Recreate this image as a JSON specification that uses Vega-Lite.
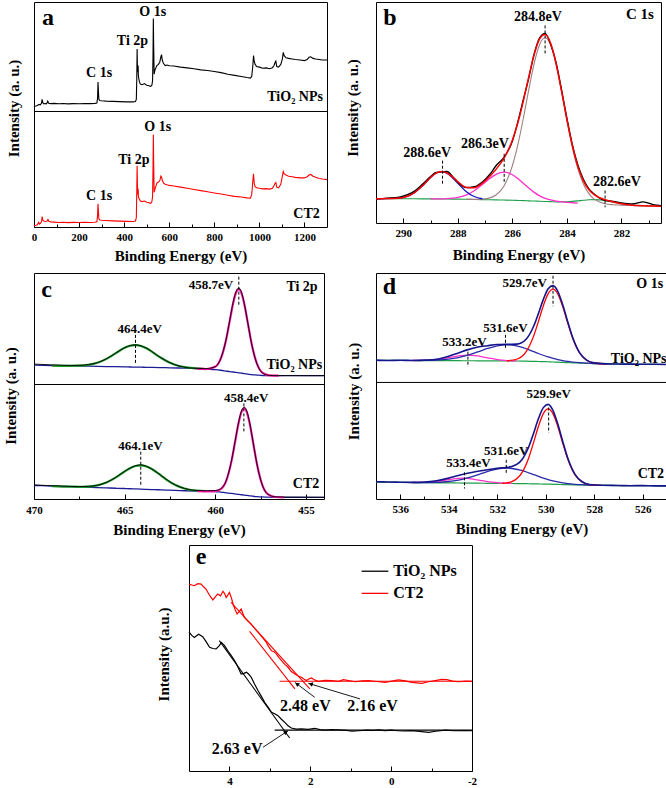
{
"$schema":"https://vega.github.io/schema/vega-lite/v6.json",
"padding":{"left":2,"top":1,"right":0,"bottom":0},
"background":"white",
"config":{
 "view":{"stroke":"black","strokeWidth":1},
 "axis":{"labelFont":"Liberation Serif","labelFontWeight":"bold","labelFontSize":11,"labelColor":"black","titleFont":"Liberation Serif","titleFontWeight":"bold","titleFontSize":15,"titleColor":"black","grid":false,"domain":false,"tickColor":"black","tickWidth":1,"labelFlush":false,"labelOverlap":false},
 "text":{"font":"Liberation Serif","fontWeight":"bold","color":"black","baseline":"middle"},
 "line":{"strokeWidth":1.2}
},
"datasets":{
"a_top":[{"x":0,"y":4.5},{"x":8,"y":5},{"x":15,"y":5.5},{"x":22,"y":6.5},{"x":28,"y":6},{"x":33,"y":7.5},{"x":36,"y":11},{"x":39,"y":8},{"x":44,"y":7},{"x":50,"y":7.3},{"x":56,"y":7},{"x":61,"y":9.5},{"x":65,"y":7.6},{"x":75,"y":7.2},{"x":90,"y":7.4},{"x":110,"y":7.1},{"x":130,"y":7.3},{"x":150,"y":7.0},{"x":175,"y":7.2},{"x":200,"y":7.1},{"x":225,"y":7.3},{"x":250,"y":7.2},{"x":270,"y":7.4},{"x":279,"y":7.8},{"x":282,"y":12},{"x":284,"y":27},{"x":286,"y":18},{"x":288,"y":11},{"x":292,"y":10},{"x":300,"y":9.8},{"x":320,"y":9.5},{"x":350,"y":9.2},{"x":380,"y":9.0},{"x":410,"y":8.8},{"x":440,"y":8.8},{"x":450,"y":9.2},{"x":454,"y":11},{"x":456,"y":30},{"x":457.5,"y":57},{"x":459,"y":40},{"x":461,"y":36},{"x":462,"y":42},{"x":463,"y":33},{"x":465,"y":30},{"x":468,"y":27},{"x":472,"y":25},{"x":480,"y":24.5},{"x":490,"y":25.5},{"x":500,"y":24},{"x":510,"y":23.5},{"x":518,"y":23},{"x":523,"y":24},{"x":526,"y":28},{"x":528,"y":50},{"x":529.5,"y":85},{"x":531,"y":60},{"x":533,"y":34},{"x":537,"y":38},{"x":545,"y":42},{"x":552,"y":43},{"x":558,"y":45},{"x":563,"y":50},{"x":566,"y":52},{"x":569,"y":47},{"x":574,"y":44},{"x":582,"y":42},{"x":590,"y":42.5},{"x":600,"y":41.8},{"x":620,"y":41.5},{"x":650,"y":40.5},{"x":680,"y":39.8},{"x":710,"y":39},{"x":740,"y":38},{"x":770,"y":37.5},{"x":800,"y":36.5},{"x":830,"y":35.5},{"x":860,"y":34},{"x":890,"y":33},{"x":920,"y":32},{"x":945,"y":31},{"x":960,"y":30.5},{"x":966,"y":32},{"x":971,"y":42},{"x":974,"y":51},{"x":977,"y":46},{"x":981,"y":43},{"x":988,"y":41},{"x":1000,"y":40.5},{"x":1015,"y":39.5},{"x":1030,"y":39.8},{"x":1045,"y":39},{"x":1058,"y":40},{"x":1065,"y":42},{"x":1070,"y":45},{"x":1073,"y":46},{"x":1077,"y":41},{"x":1085,"y":40.5},{"x":1095,"y":43},{"x":1102,"y":48},{"x":1106,"y":54},{"x":1110,"y":51},{"x":1118,"y":49},{"x":1130,"y":48.5},{"x":1145,"y":48},{"x":1160,"y":47.5},{"x":1180,"y":47},{"x":1200,"y":46.5},{"x":1212,"y":47.5},{"x":1220,"y":49.5},{"x":1228,"y":50},{"x":1238,"y":48.5},{"x":1250,"y":48},{"x":1265,"y":47.5},{"x":1280,"y":47},{"x":1300,"y":47}],
"a_bot":[{"x":0,"y":1},{"x":8,"y":1.5},{"x":15,"y":2},{"x":20,"y":4},{"x":25,"y":2.5},{"x":30,"y":3.5},{"x":34,"y":5},{"x":36,"y":9},{"x":39,"y":6},{"x":45,"y":5},{"x":52,"y":4.8},{"x":58,"y":5.2},{"x":62,"y":6.5},{"x":66,"y":5},{"x":75,"y":4.3},{"x":90,"y":4.2},{"x":110,"y":3.9},{"x":130,"y":4.1},{"x":150,"y":3.8},{"x":175,"y":4},{"x":200,"y":3.9},{"x":225,"y":4.1},{"x":250,"y":3.9},{"x":270,"y":4.1},{"x":279,"y":4.5},{"x":282,"y":10},{"x":284,"y":20},{"x":286,"y":13},{"x":288,"y":7},{"x":292,"y":6},{"x":300,"y":5.8},{"x":320,"y":5.6},{"x":350,"y":5.3},{"x":380,"y":5.1},{"x":410,"y":4.9},{"x":440,"y":4.8},{"x":450,"y":5.2},{"x":454,"y":8},{"x":456,"y":30},{"x":457.5,"y":53},{"x":459,"y":36},{"x":461,"y":28},{"x":462,"y":33},{"x":463,"y":27},{"x":465,"y":25},{"x":468,"y":24},{"x":472,"y":22.5},{"x":480,"y":22},{"x":490,"y":22.5},{"x":500,"y":21.5},{"x":510,"y":21},{"x":518,"y":20.5},{"x":523,"y":22},{"x":526,"y":26},{"x":528,"y":50},{"x":529.5,"y":80},{"x":531,"y":55},{"x":533,"y":30},{"x":537,"y":33},{"x":545,"y":38},{"x":552,"y":39},{"x":558,"y":40},{"x":563,"y":44},{"x":566,"y":43},{"x":570,"y":40},{"x":575,"y":38},{"x":582,"y":37},{"x":590,"y":36.5},{"x":600,"y":36},{"x":620,"y":35.5},{"x":650,"y":34.5},{"x":680,"y":33.5},{"x":710,"y":32.5},{"x":740,"y":31.5},{"x":770,"y":30.5},{"x":800,"y":29.5},{"x":830,"y":28.5},{"x":860,"y":27.5},{"x":890,"y":26.5},{"x":920,"y":26},{"x":945,"y":25.2},{"x":960,"y":25},{"x":966,"y":28},{"x":971,"y":40},{"x":974,"y":46},{"x":977,"y":38},{"x":981,"y":35},{"x":988,"y":34},{"x":1000,"y":33.5},{"x":1015,"y":33},{"x":1030,"y":33.2},{"x":1045,"y":32.8},{"x":1058,"y":33.5},{"x":1065,"y":36},{"x":1070,"y":38},{"x":1073,"y":38.5},{"x":1077,"y":34.5},{"x":1085,"y":34},{"x":1095,"y":37},{"x":1102,"y":44},{"x":1106,"y":48},{"x":1110,"y":46},{"x":1118,"y":45},{"x":1130,"y":44},{"x":1145,"y":43.5},{"x":1160,"y":43},{"x":1180,"y":42.5},{"x":1200,"y":42.5},{"x":1212,"y":43.5},{"x":1220,"y":45},{"x":1228,"y":45.5},{"x":1238,"y":44},{"x":1250,"y":43},{"x":1265,"y":42},{"x":1280,"y":41.5},{"x":1300,"y":41}],
"b":[{"x":291.0,"d":10.8,"env":11.0,"c1":11.0,"g":11.0},{"x":290.6,"d":11.3,"env":11.03,"c1":11.03,"g":11.0},{"x":290.2,"d":11.6,"env":11.24,"c1":11.24,"g":11.0},{"x":289.9,"d":12.6,"env":11.91,"c1":11.91,"g":10.99},{"x":289.6,"d":14.3,"env":13.62,"c1":13.62,"g":10.96},{"x":289.3,"d":17.5,"env":16.76,"c1":16.76,"g":10.93},{"x":289.0,"d":21.0,"env":20.6,"c1":20.59,"c2":10.91,"g":10.9},{"x":288.8,"d":22.9,"env":22.57,"c1":22.54,"c2":10.91,"g":10.88},{"x":288.6,"d":23.1,"env":23.34,"c1":23.26,"c2":10.94,"g":10.86},{"x":288.4,"d":23.3,"env":22.68,"c1":22.5,"c2":11.02,"g":10.84},{"x":288.2,"d":21.2,"env":20.9,"c1":20.51,"c2":11.21,"g":10.82},{"x":288.0,"d":18.5,"env":18.71,"c1":17.93,"c2":11.58,"g":10.8},{"x":287.7,"d":16.0,"env":16.21,"c1":14.3,"c2":12.63,"c3":10.73,"g":10.73},{"x":287.4,"d":16.4,"env":15.97,"c1":12.0,"c2":14.57,"c3":10.7,"g":10.65},{"x":287.1,"d":18.6,"env":18.01,"c1":10.97,"c2":17.38,"c3":10.82,"g":10.58},{"x":286.8,"d":22.4,"env":21.47,"c2":20.4,"c3":11.48,"g":10.5},{"x":286.6,"d":25.9,"env":24.26,"c2":22.0,"c3":12.68,"g":10.45},{"x":286.3,"d":29.8,"env":29.49,"c2":22.98,"c3":16.89,"g":10.38},{"x":286.0,"d":37.0,"env":37.46,"c2":21.85,"c3":25.91,"g":10.3},{"x":285.8,"d":45.8,"env":45.24,"c2":20.11,"c3":35.34,"g":10.21},{"x":285.6,"d":55.8,"env":55.05,"c2":17.96,"c3":47.2,"g":10.11},{"x":285.4,"d":65.5,"env":66.0,"c2":15.79,"c3":60.23,"g":10.02},{"x":285.2,"d":76.6,"env":76.18,"c2":13.85,"c3":72.26,"g":9.93},{"x":285.0,"d":83.8,"env":83.27,"c2":12.3,"c3":80.8,"g":9.83},{"x":284.8,"d":85.8,"env":85.28,"c2":11.18,"c3":83.84,"g":9.74},{"x":284.6,"d":81.0,"env":81.4,"c2":10.43,"c3":80.62,"g":9.65},{"x":284.4,"d":72.8,"env":72.25,"c2":9.92,"c3":71.86,"g":9.53},{"x":284.2,"d":60.6,"env":59.98,"c2":9.58,"c3":59.61,"g":9.59},{"x":284.0,"d":47.5,"env":46.81,"c2":9.35,"c3":46.36,"g":9.64},{"x":283.8,"d":35.5,"env":34.94,"c2":9.16,"c3":34.26,"g":9.78},{"x":283.6,"d":26.4,"env":25.62,"c2":9.0,"c3":24.61,"g":10.01},{"x":283.4,"d":19.9,"env":19.18,"c3":17.77,"g":10.28},{"x":283.2,"d":15.6,"env":15.15,"c3":13.38,"g":10.5},{"x":283.0,"d":13.1,"env":12.8,"c3":10.83,"g":10.57},{"x":282.8,"d":11.2,"env":11.43,"c3":9.46,"g":10.45},{"x":282.6,"d":10.2,"env":10.52,"c3":8.75,"g":10.13},{"x":282.3,"d":9.8,"env":9.48,"c3":8.27,"g":9.39},{"x":282.0,"d":9.1,"env":8.66,"c3":8.01,"g":8.65},{"x":281.6,"d":8.6,"env":8.08,"c3":7.89,"g":8.08},{"x":281.2,"d":9.6,"env":7.82,"c3":7.78,"g":7.82},{"x":280.8,"d":8.2,"env":7.67,"c3":7.67,"g":7.67},{"x":280.55,"d":7.9,"env":7.6,"c3":7.6,"g":7.6}],
"c_top":[{"x":470,"d":18.3,"bg":17.3},{"x":469,"d":17.6,"bg":17.0,"gr":17.0},{"x":468,"d":17.1,"bg":16.7,"gr":16.79},{"x":467.5,"d":17.2,"bg":16.55,"gr":16.92},{"x":467,"d":17.9,"bg":16.4,"gr":17.61},{"x":466.5,"d":19.6,"bg":16.25,"gr":19.45},{"x":466,"d":23.1,"bg":16.1,"gr":22.97},{"x":465.5,"d":28.1,"bg":15.94,"gr":27.95},{"x":465,"d":33.0,"bg":15.8,"gr":32.86},{"x":464.7,"d":34.9,"bg":15.7,"gr":34.78},{"x":464.4,"d":35.6,"bg":15.6,"gr":35.4},{"x":464.1,"d":34.7,"bg":15.5,"gr":34.58},{"x":463.8,"d":32.7,"bg":15.4,"gr":32.46},{"x":463.5,"d":29.6,"bg":15.3,"gr":29.47},{"x":463,"d":24.0,"bg":15.13,"gr":23.94},{"x":462.5,"d":19.6,"bg":14.97,"gr":19.43},{"x":462,"d":16.6,"bg":14.8,"gr":16.63},{"x":461.5,"d":15.0,"bg":14.55,"gr":15.16},{"x":461,"d":14.4,"bg":14.3,"gr":14.47,"pk":14.3},{"x":460.5,"d":14.2,"bg":13.8,"gr":13.84,"pk":13.91},{"x":460,"d":16.0,"bg":13.3,"pk":15.85},{"x":459.7,"d":23.2,"bg":12.76,"pk":22.91},{"x":459.4,"d":40.6,"bg":12.04,"pk":40.19},{"x":459.2,"d":57.6,"bg":11.56,"pk":57.05},{"x":459.0,"d":74.8,"bg":11.2,"pk":73.85},{"x":458.85,"d":83.5,"bg":10.84,"pk":82.54},{"x":458.7,"d":86.5,"bg":10.48,"pk":85.48},{"x":458.55,"d":82.6,"bg":10.12,"pk":81.82},{"x":458.4,"d":72.8,"bg":9.76,"pk":72.41},{"x":458.2,"d":55.0,"bg":9.34,"pk":54.83},{"x":458.0,"d":37.0,"bg":8.9,"pk":37.05},{"x":457.7,"d":18.5,"bg":8.48,"pk":18.63},{"x":457.4,"d":10.4,"bg":8.06,"pk":10.61},{"x":457,"d":8.1,"bg":7.9,"pk":8.13},{"x":456.5,"d":7.9,"bg":7.9,"pk":7.9},{"x":456,"d":8.0,"bg":7.9},{"x":455,"d":7.9,"bg":7.9},{"x":454,"d":7.9,"bg":7.9}],
"c_bot":[{"x":470,"d":12.3,"bg":11.8},{"x":469,"d":11.6,"bg":11.3,"gr":11.3},{"x":468,"d":11.0,"bg":10.75,"gr":10.79},{"x":467.5,"d":10.8,"bg":10.5,"gr":10.67},{"x":467,"d":11.1,"bg":10.25,"gr":10.89},{"x":466.5,"d":12.0,"bg":10.0,"gr":11.92},{"x":466,"d":14.6,"bg":9.7,"gr":14.38},{"x":465.5,"d":18.8,"bg":9.4,"gr":18.65},{"x":465,"d":24.2,"bg":9.15,"gr":24.03},{"x":464.7,"d":27.0,"bg":8.95,"gr":26.88},{"x":464.4,"d":29.1,"bg":8.8,"gr":28.84},{"x":464.1,"d":29.8,"bg":8.6,"gr":29.4},{"x":463.8,"d":28.6,"bg":8.4,"gr":28.44},{"x":463.5,"d":26.2,"bg":8.25,"gr":26.18},{"x":463.2,"d":23.0,"bg":8.1,"gr":22.98},{"x":462.7,"d":17.2,"bg":7.75,"gr":17.0},{"x":462.2,"d":12.3,"bg":7.5,"gr":12.18},{"x":461.7,"d":9.2,"bg":7.2,"gr":9.12},{"x":461,"d":7.4,"bg":6.85,"gr":7.24,"pk":6.85},{"x":460.5,"d":7.2,"bg":6.7,"gr":6.8,"pk":6.71},{"x":460,"d":7.4,"bg":6.5,"pk":6.95},{"x":459.7,"d":8.9,"bg":6.0,"pk":8.57},{"x":459.4,"d":16.0,"bg":5.4,"pk":15.64},{"x":459.1,"d":33.8,"bg":4.9,"pk":33.31},{"x":458.9,"d":51.0,"bg":4.4,"pk":50.31},{"x":458.7,"d":68.0,"bg":4.0,"pk":67.23},{"x":458.55,"d":77.0,"bg":3.7,"pk":76.07},{"x":458.4,"d":80.2,"bg":3.4,"pk":79.1},{"x":458.25,"d":76.4,"bg":3.1,"pk":75.47},{"x":458.1,"d":66.6,"bg":2.8,"pk":66.03},{"x":457.9,"d":48.6,"bg":2.4,"pk":48.31},{"x":457.7,"d":30.6,"bg":2.1,"pk":30.51},{"x":457.4,"d":12.0,"bg":1.8,"pk":12.04},{"x":457.1,"d":4.2,"bg":1.6,"pk":4.17},{"x":456.7,"d":1.9,"bg":1.5,"pk":1.73},{"x":456.2,"d":1.7,"bg":1.5,"pk":1.5},{"x":455,"d":1.6,"bg":1.5},{"x":454,"d":1.5,"bg":1.5}],
"d_top":[{"x":537,"env":20.4,"bg":20.2},{"x":536.5,"env":20.1,"bg":20.15},{"x":536,"env":20.3,"bg":20.1},{"x":535.5,"env":20.0,"bg":20.05,"n":20.08,"p":20.07},{"x":535,"env":20.4,"bg":20.0,"n":20.12,"p":20.19},{"x":534.5,"env":21.2,"bg":19.95,"n":20.41,"p":20.88},{"x":534,"env":24.0,"bg":19.9,"n":21.26,"p":22.61},{"x":533.6,"env":27.0,"bg":19.86,"n":22.68,"p":24.28},{"x":533.2,"env":30.0,"bg":19.82,"n":24.92,"p":25.02},{"x":532.8,"env":32.4,"bg":19.78,"n":27.89,"p":24.2},{"x":532.4,"env":33.6,"bg":19.74,"n":31.02,"p":22.45},{"x":532,"env":34.6,"bg":19.7,"n":33.46,"p":20.9},{"x":531.6,"env":34.9,"bg":19.64,"n":34.34,"p":20.02,"r":19.81},{"x":531.2,"env":35.0,"bg":19.58,"n":33.34,"p":19.67,"r":21.19},{"x":530.8,"env":39.7,"bg":19.4,"n":30.68,"r":28.4},{"x":530.5,"env":51.3,"bg":19.25,"n":28.17,"r":42.34},{"x":530.3,"env":63.1,"bg":19.15,"n":26.46,"r":55.83},{"x":530.1,"env":75.9,"bg":19.05,"n":24.85,"r":70.1},{"x":529.9,"env":85.6,"bg":18.9,"n":23.35,"r":81.15},{"x":529.7,"env":88.5,"bg":18.7,"n":22.0,"r":85.2},{"x":529.5,"env":83.1,"bg":18.5,"n":20.88,"r":80.75},{"x":529.3,"env":70.9,"bg":18.3,"n":19.95,"r":69.35},{"x":529.1,"env":55.9,"bg":18.1,"n":19.21,"r":54.78},{"x":528.9,"env":41.7,"bg":17.92,"n":18.64,"r":41.01},{"x":528.6,"env":27.0,"bg":17.68,"n":18.04,"r":26.68},{"x":528.3,"env":20.2,"bg":17.44,"n":17.6,"r":19.99},{"x":528,"env":17.9,"bg":17.2,"n":17.27,"r":17.75},{"x":527.5,"env":17.0,"bg":17.0,"n":17.0,"r":17.02},{"x":527,"env":16.8,"bg":16.8},{"x":526.5,"env":16.7,"bg":16.7},{"x":526,"env":16.6,"bg":16.6},{"x":525.5,"env":16.6,"bg":16.5},{"x":525,"env":16.4,"bg":16.4}],
"d_bot":[{"x":537,"env":14.8,"bg":14.5},{"x":536.5,"env":14.6,"bg":14.38},{"x":536,"env":14.4,"bg":14.25},{"x":535.5,"env":14.3,"bg":14.13,"n":14.15,"p":14.18},{"x":535,"env":14.5,"bg":14.0,"n":14.11,"p":14.3},{"x":534.5,"env":15.6,"bg":13.9,"n":14.31,"p":15.11},{"x":534,"env":17.9,"bg":13.8,"n":15.01,"p":16.67},{"x":533.8,"env":19.1,"bg":13.76,"n":15.53,"p":17.28},{"x":533.4,"env":21.3,"bg":13.68,"n":17.11,"p":17.83},{"x":533.0,"env":23.0,"bg":13.6,"n":19.43,"p":17.12},{"x":532.6,"env":24.4,"bg":13.52,"n":22.19,"p":15.68},{"x":532.2,"env":25.7,"bg":13.44,"n":24.73,"p":14.39},{"x":531.8,"env":26.7,"bg":13.36,"n":26.25,"p":13.66,"r":13.53},{"x":531.6,"env":27.1,"bg":13.32,"n":26.42,"p":13.47,"r":13.86},{"x":531.4,"env":27.8,"bg":13.28,"n":26.17,"p":13.35,"r":14.85},{"x":531.0,"env":33.2,"bg":13.2,"n":24.49,"r":21.93},{"x":530.7,"env":44.8,"bg":13.08,"n":22.45,"r":35.47},{"x":530.5,"env":56.5,"bg":13.0,"n":20.95,"r":48.58},{"x":530.3,"env":69.0,"bg":12.92,"n":19.44,"r":62.43},{"x":530.1,"env":78.4,"bg":12.84,"n":18.01,"r":73.21},{"x":529.9,"env":81.2,"bg":12.74,"n":16.71,"r":77.24},{"x":529.7,"env":75.9,"bg":12.62,"n":15.57,"r":72.99},{"x":529.5,"env":64.1,"bg":12.5,"n":14.62,"r":62.01},{"x":529.3,"env":49.4,"bg":12.38,"n":13.85,"r":47.96},{"x":529.1,"env":35.6,"bg":12.26,"n":13.25,"r":34.65},{"x":528.8,"env":21.4,"bg":12.12,"n":12.63,"r":20.85},{"x":528.5,"env":14.8,"bg":12.0,"n":12.25,"r":14.53},{"x":528.2,"env":12.5,"bg":11.88,"n":11.99,"r":12.42},{"x":527.7,"env":11.8,"bg":11.71,"n":11.73,"r":11.73},{"x":527,"env":11.6,"bg":11.5},{"x":526.5,"env":11.4,"bg":11.45},{"x":526,"env":11.5,"bg":11.4},{"x":525.5,"env":11.3,"bg":11.35},{"x":525,"env":11.3,"bg":11.3}],
"e_blk":[{"x":5.0,"y":61.4},{"x":4.93,"y":60.0},{"x":4.87,"y":59.1},{"x":4.76,"y":60.5},{"x":4.66,"y":59.4},{"x":4.57,"y":57.0},{"x":4.49,"y":54.7},{"x":4.41,"y":54.2},{"x":4.33,"y":54.0},{"x":4.25,"y":55.5},{"x":4.2,"y":56.9},{"x":4.12,"y":55.5},{"x":4.04,"y":53.2},{"x":3.95,"y":51.0},{"x":3.87,"y":48.8},{"x":3.79,"y":46.0},{"x":3.71,"y":42.9},{"x":3.64,"y":43.2},{"x":3.58,"y":43.7},{"x":3.52,"y":42.8},{"x":3.46,"y":41.5},{"x":3.38,"y":38.5},{"x":3.29,"y":35.5},{"x":3.21,"y":33.0},{"x":3.13,"y":30.4},{"x":3.04,"y":28.2},{"x":2.96,"y":26.0},{"x":2.88,"y":25.3},{"x":2.8,"y":24.5},{"x":2.72,"y":23.0},{"x":2.63,"y":21.5},{"x":2.55,"y":20.0},{"x":2.47,"y":19.0},{"x":2.35,"y":18.5},{"x":2.22,"y":18.6},{"x":2.05,"y":18.4},{"x":1.89,"y":18.9},{"x":1.76,"y":18.3},{"x":1.64,"y":18.1},{"x":1.47,"y":18.3},{"x":1.3,"y":18.2},{"x":1.1,"y":18.0},{"x":0.97,"y":17.6},{"x":0.81,"y":17.8},{"x":0.6,"y":18.1},{"x":0.45,"y":18.0},{"x":0.31,"y":18.2},{"x":0.15,"y":17.9},{"x":0.0,"y":18.1},{"x":-0.17,"y":17.8},{"x":-0.32,"y":17.7},{"x":-0.5,"y":17.9},{"x":-0.7,"y":17.5},{"x":-0.93,"y":17.1},{"x":-1.1,"y":17.6},{"x":-1.34,"y":18.1},{"x":-1.55,"y":17.8},{"x":-1.8,"y":17.9},{"x":-2.0,"y":17.8}],
"e_red":[{"x":5.0,"y":82.7},{"x":4.93,"y":82.3},{"x":4.87,"y":82.0},{"x":4.78,"y":82.9},{"x":4.7,"y":82.7},{"x":4.64,"y":81.5},{"x":4.58,"y":80.5},{"x":4.5,"y":78.0},{"x":4.41,"y":75.7},{"x":4.35,"y":77.0},{"x":4.29,"y":78.3},{"x":4.22,"y":77.5},{"x":4.16,"y":79.5},{"x":4.12,"y":78.5},{"x":4.08,"y":76.8},{"x":4.04,"y":77.8},{"x":4.0,"y":79.0},{"x":3.95,"y":76.5},{"x":3.91,"y":73.9},{"x":3.86,"y":71.5},{"x":3.81,"y":69.5},{"x":3.76,"y":70.5},{"x":3.71,"y":71.7},{"x":3.67,"y":69.8},{"x":3.63,"y":68.0},{"x":3.55,"y":66.5},{"x":3.46,"y":65.0},{"x":3.36,"y":62.8},{"x":3.25,"y":60.6},{"x":3.17,"y":58.8},{"x":3.09,"y":57.0},{"x":3.03,"y":55.0},{"x":2.96,"y":53.2},{"x":2.9,"y":52.8},{"x":2.84,"y":51.8},{"x":2.78,"y":50.3},{"x":2.71,"y":48.8},{"x":2.63,"y":47.2},{"x":2.55,"y":45.9},{"x":2.47,"y":44.0},{"x":2.38,"y":42.9},{"x":2.3,"y":42.0},{"x":2.22,"y":41.5},{"x":2.15,"y":40.6},{"x":2.09,"y":40.0},{"x":2.03,"y":40.8},{"x":1.97,"y":41.2},{"x":1.88,"y":40.2},{"x":1.8,"y":39.7},{"x":1.64,"y":40.1},{"x":1.47,"y":40.0},{"x":1.3,"y":39.7},{"x":1.18,"y":40.4},{"x":1.05,"y":40.0},{"x":0.89,"y":39.5},{"x":0.72,"y":39.9},{"x":0.56,"y":40.0},{"x":0.35,"y":39.6},{"x":0.15,"y":39.2},{"x":-0.02,"y":39.8},{"x":-0.18,"y":40.3},{"x":-0.35,"y":39.9},{"x":-0.51,"y":39.2},{"x":-0.76,"y":38.8},{"x":-0.92,"y":39.5},{"x":-1.09,"y":40.0},{"x":-1.25,"y":40.5},{"x":-1.38,"y":40.4},{"x":-1.52,"y":39.8},{"x":-1.67,"y":39.5},{"x":-1.85,"y":39.8},{"x":-2.0,"y":39.7}]
},
"columns":2,
"bounds":"flush",
"spacing":{"row":46,"column":49},
"concat":[
 {"width":293,"height":225,
  "resolve":{"scale":{"y":"independent"},"axis":{"x":"independent"}},
  "layer":[
   {"encoding":{"x":{"field":"x","type":"quantitative","scale":{"domain":[0,1300],"nice":false,"zero":false},"axis":null}},
    "layer":[
     {"data":{"name":"a_top"},"mark":{"type":"line","color":"black","strokeWidth":1.1},"encoding":{"y":{"field":"y","type":"quantitative","scale":{"domain":[-105.5,100],"nice":false,"zero":false},"axis":{"title":"Intensity (a. u.)","labels":false,"ticks":false,"titleX":-20.5,"titleY":106,"titleBaseline":"middle"}}}},
     {"data":{"values":[{"x":289,"y":35,"t":"C 1s"},{"x":437,"y":64,"t":"Ti 2p"},{"x":527,"y":91,"t":"O 1s"}]},"mark":{"type":"text","fontSize":14},"encoding":{"y":{"field":"y","type":"quantitative","scale":{"domain":[-105.5,100],"nice":false,"zero":false},"axis":{"title":"Intensity (a. u.)","labels":false,"ticks":false,"titleX":-20.5,"titleY":106,"titleBaseline":"middle"}},"text":{"field":"t"}}},
     {"data":{"values":[{"x":1282,"y":13.6,"t":"TiO₂ NPs"}]},"mark":{"type":"text","fontSize":14,"align":"right"},"encoding":{"y":{"field":"y","type":"quantitative","scale":{"domain":[-105.5,100],"nice":false,"zero":false},"axis":{"title":"Intensity (a. u.)","labels":false,"ticks":false,"titleX":-20.5,"titleY":106,"titleBaseline":"middle"}},"text":{"field":"t"}}},
     {"data":{"values":[{"x":62,"y":85,"t":"a"}]},"mark":{"type":"text","fontSize":24},"encoding":{"y":{"field":"y","type":"quantitative","scale":{"domain":[-105.5,100],"nice":false,"zero":false},"axis":{"title":"Intensity (a. u.)","labels":false,"ticks":false,"titleX":-20.5,"titleY":106,"titleBaseline":"middle"}},"text":{"field":"t"}}}
    ]},
   {"encoding":{"x":{"field":"x","type":"quantitative","scale":{"domain":[0,1300],"nice":false,"zero":false},"axis":{"values":[0,200,400,600,800,1000,1200],"format":"d","tickSize":-5,"labelPadding":9,"title":"Binding Energy (eV)","titlePadding":6}}},
    "layer":[
     {"data":{"values":[{"x":0,"x2":1300,"y":100}]},"mark":{"type":"rule","color":"black","strokeWidth":1},"encoding":{"x2":{"field":"x2"},"y":{"field":"y","type":"quantitative","scale":{"domain":[0,194.8],"nice":false,"zero":false},"axis":null}}},
     {"data":{"name":"a_bot"},"mark":{"type":"line","color":"#ff0000","strokeWidth":1.1},"encoding":{"y":{"field":"y","type":"quantitative","scale":{"domain":[0,194.8],"nice":false,"zero":false},"axis":null}}},
     {"data":{"values":[{"x":289,"y":26.7,"t":"C 1s"},{"x":443,"y":57.8,"t":"Ti 2p"},{"x":549,"y":87,"t":"O 1s"}]},"mark":{"type":"text","fontSize":14},"encoding":{"y":{"field":"y","type":"quantitative","scale":{"domain":[0,194.8],"nice":false,"zero":false},"axis":null},"text":{"field":"t"}}},
     {"data":{"values":[{"x":1268,"y":11.5,"t":"CT2"}]},"mark":{"type":"text","fontSize":14,"align":"right"},"encoding":{"y":{"field":"y","type":"quantitative","scale":{"domain":[0,194.8],"nice":false,"zero":false},"axis":null},"text":{"field":"t"}}}
    ]},
   {"data":{"values":[{"x":100,"y":0}]},"mark":{"type":"point","opacity":0},"encoding":{"x":{"field":"x","type":"quantitative","scale":{"domain":[0,1300],"nice":false,"zero":false},"axis":{"orient":"bottom","values":[100,300,500,700,900,1100],"tickSize":-3,"labels":false,"title":null}},"y":{"field":"y","type":"quantitative","scale":{"domain":[0,194.8],"nice":false,"zero":false},"axis":null}}}
  ]},
 {"width":285,"height":221,
  "resolve":{"axis":{"x":"independent"}},
  "layer":[
   {"encoding":{"x":{"field":"x","type":"quantitative","scale":{"domain":[291,280.55],"nice":false,"zero":false},"axis":{"values":[290,288,286,284,282],"tickSize":-5,"labelPadding":9,"title":"Binding Energy (eV)","titlePadding":9}}},
    "layer":[
     {"data":{"name":"b"},"mark":{"type":"line","color":"#1e9e4a","strokeWidth":1.1,"interpolate":"monotone"},"encoding":{"y":{"field":"g","type":"quantitative","scale":{"domain":[0,100],"nice":false,"zero":false},"axis":{"title":"Intensity (a. u.)","labels":false,"ticks":false,"titleX":-24,"titleY":105.5,"titleBaseline":"middle"}}}},
     {"data":{"name":"b"},"mark":{"type":"line","color":"#9e7f80","strokeWidth":1.1,"interpolate":"monotone"},"encoding":{"y":{"field":"c3","type":"quantitative","scale":{"domain":[0,100],"nice":false,"zero":false},"axis":{"title":"Intensity (a. u.)","labels":false,"ticks":false,"titleX":-24,"titleY":105.5,"titleBaseline":"middle"}}}},
     {"data":{"name":"b"},"mark":{"type":"line","color":"#ff2fc8","strokeWidth":1.3,"interpolate":"monotone"},"encoding":{"y":{"field":"c2","type":"quantitative","scale":{"domain":[0,100],"nice":false,"zero":false},"axis":{"title":"Intensity (a. u.)","labels":false,"ticks":false,"titleX":-24,"titleY":105.5,"titleBaseline":"middle"}}}},
     {"data":{"name":"b"},"mark":{"type":"line","color":"#1010c0","strokeWidth":1.3,"interpolate":"monotone"},"encoding":{"y":{"field":"c1","type":"quantitative","scale":{"domain":[0,100],"nice":false,"zero":false},"axis":{"title":"Intensity (a. u.)","labels":false,"ticks":false,"titleX":-24,"titleY":105.5,"titleBaseline":"middle"}}}},
     {"data":{"name":"b"},"mark":{"type":"line","color":"black","strokeWidth":1.3,"interpolate":"monotone"},"encoding":{"y":{"field":"d","type":"quantitative","scale":{"domain":[0,100],"nice":false,"zero":false},"axis":{"title":"Intensity (a. u.)","labels":false,"ticks":false,"titleX":-24,"titleY":105.5,"titleBaseline":"middle"}}}},
     {"data":{"name":"b"},"mark":{"type":"line","color":"#ff0000","strokeWidth":1.5,"interpolate":"monotone"},"encoding":{"y":{"field":"env","type":"quantitative","scale":{"domain":[0,100],"nice":false,"zero":false},"axis":{"title":"Intensity (a. u.)","labels":false,"ticks":false,"titleX":-24,"titleY":105.5,"titleBaseline":"middle"}}}},
     {"data":{"values":[{"x":284.8,"y":89.4,"y2":75.8},{"x":288.56,"y":28.2,"y2":16.9},{"x":286.3,"y":31.3,"y2":17.7},{"x":282.6,"y":14.7,"y2":7.1}]},"mark":{"type":"rule","color":"black","strokeWidth":1,"strokeDash":[3,2]},"encoding":{"y":{"field":"y","type":"quantitative","scale":{"domain":[0,100],"nice":false,"zero":false},"axis":{"title":"Intensity (a. u.)","labels":false,"ticks":false,"titleX":-24,"titleY":105.5,"titleBaseline":"middle"}},"y2":{"field":"y2"}}},
     {"data":{"values":[{"x":285.06,"y":93.2,"t":"284.8eV"},{"x":289.12,"y":31.7,"t":"288.6eV"},{"x":287.01,"y":35.8,"t":"286.3eV"},{"x":282.17,"y":18.4,"t":"282.6eV"}]},"mark":{"type":"text","fontSize":14},"encoding":{"y":{"field":"y","type":"quantitative","scale":{"domain":[0,100],"nice":false,"zero":false},"axis":{"title":"Intensity (a. u.)","labels":false,"ticks":false,"titleX":-24,"titleY":105.5,"titleBaseline":"middle"}},"text":{"field":"t"}}},
     {"data":{"values":[{"x":280.81,"y":94.7,"t":"C 1s"}]},"mark":{"type":"text","fontSize":15,"align":"right"},"encoding":{"y":{"field":"y","type":"quantitative","scale":{"domain":[0,100],"nice":false,"zero":false},"axis":{"title":"Intensity (a. u.)","labels":false,"ticks":false,"titleX":-24,"titleY":105.5,"titleBaseline":"middle"}},"text":{"field":"t"}}},
     {"data":{"values":[{"x":290.49,"y":92.7,"t":"b"}]},"mark":{"type":"text","fontSize":24},"encoding":{"y":{"field":"y","type":"quantitative","scale":{"domain":[0,100],"nice":false,"zero":false},"axis":{"title":"Intensity (a. u.)","labels":false,"ticks":false,"titleX":-24,"titleY":105.5,"titleBaseline":"middle"}},"text":{"field":"t"}}}
    ]},
   {"data":{"values":[{"x":289,"y":0}]},"mark":{"type":"point","opacity":0},"encoding":{"x":{"field":"x","type":"quantitative","scale":{"domain":[291,280.55],"nice":false,"zero":false},"axis":{"orient":"bottom","values":[289,287,285,283,281],"tickSize":-3,"labels":false,"title":null}},"y":{"field":"y","type":"quantitative","scale":{"domain":[0,100],"nice":false,"zero":false},"axis":{"title":"Intensity (a. u.)","labels":false,"ticks":false,"titleX":-24,"titleY":105.5,"titleBaseline":"middle"}}}}
  ]},
 {"width":290,"height":226,
  "resolve":{"scale":{"y":"independent"},"axis":{"x":"independent"}},
  "layer":[
   {"encoding":{"x":{"field":"x","type":"quantitative","scale":{"domain":[470,454],"nice":false,"zero":false},"axis":null}},
    "layer":[
     {"data":{"name":"c_top"},"mark":{"type":"line","color":"#1c1c96","strokeWidth":1.3,"interpolate":"monotone"},"encoding":{"y":{"field":"bg","type":"quantitative","scale":{"domain":[-102.7,100],"nice":false,"zero":false},"axis":{"title":"Intensity (a. u.)","labels":false,"ticks":false,"titleX":-24,"titleY":122.5,"titleBaseline":"middle"}}}},
     {"data":{"name":"c_top"},"mark":{"type":"line","color":"#1a9a2a","strokeWidth":2.2,"interpolate":"monotone"},"encoding":{"y":{"field":"gr","type":"quantitative","scale":{"domain":[-102.7,100],"nice":false,"zero":false},"axis":{"title":"Intensity (a. u.)","labels":false,"ticks":false,"titleX":-24,"titleY":122.5,"titleBaseline":"middle"}}}},
     {"data":{"name":"c_top"},"mark":{"type":"line","color":"#ff1aa8","strokeWidth":2.2,"interpolate":"monotone"},"encoding":{"y":{"field":"pk","type":"quantitative","scale":{"domain":[-102.7,100],"nice":false,"zero":false},"axis":{"title":"Intensity (a. u.)","labels":false,"ticks":false,"titleX":-24,"titleY":122.5,"titleBaseline":"middle"}}}},
     {"data":{"name":"c_top"},"mark":{"type":"line","color":"black","strokeWidth":0.9,"interpolate":"monotone"},"encoding":{"y":{"field":"d","type":"quantitative","scale":{"domain":[-102.7,100],"nice":false,"zero":false},"axis":{"title":"Intensity (a. u.)","labels":false,"ticks":false,"titleX":-24,"titleY":122.5,"titleBaseline":"middle"}}}},
     {"data":{"values":[{"x":464.4,"y":44.5,"y2":19.4},{"x":458.7,"y":96.7,"y2":70.9}]},"mark":{"type":"rule","color":"black","strokeWidth":1,"strokeDash":[3,2]},"encoding":{"y":{"field":"y","type":"quantitative","scale":{"domain":[-102.7,100],"nice":false,"zero":false},"axis":{"title":"Intensity (a. u.)","labels":false,"ticks":false,"titleX":-24,"titleY":122.5,"titleBaseline":"middle"}},"y2":{"field":"y2"}}},
     {"data":{"values":[{"x":464.17,"y":49.7,"t":"464.4eV"},{"x":460.24,"y":89.1,"t":"458.7eV"}]},"mark":{"type":"text","fontSize":13},"encoding":{"y":{"field":"y","type":"quantitative","scale":{"domain":[-102.7,100],"nice":false,"zero":false},"axis":{"title":"Intensity (a. u.)","labels":false,"ticks":false,"titleX":-24,"titleY":122.5,"titleBaseline":"middle"}},"text":{"field":"t"}}},
     {"data":{"values":[{"x":454.35,"y":87.6,"t":"Ti 2p"},{"x":454.1,"y":17.9,"t":"TiO₂ NPs"}]},"mark":{"type":"text","fontSize":14,"align":"right"},"encoding":{"y":{"field":"y","type":"quantitative","scale":{"domain":[-102.7,100],"nice":false,"zero":false},"axis":{"title":"Intensity (a. u.)","labels":false,"ticks":false,"titleX":-24,"titleY":122.5,"titleBaseline":"middle"}},"text":{"field":"t"}}},
     {"data":{"values":[{"x":469.31,"y":84.5,"t":"c"}]},"mark":{"type":"text","fontSize":24},"encoding":{"y":{"field":"y","type":"quantitative","scale":{"domain":[-102.7,100],"nice":false,"zero":false},"axis":{"title":"Intensity (a. u.)","labels":false,"ticks":false,"titleX":-24,"titleY":122.5,"titleBaseline":"middle"}},"text":{"field":"t"}}}
    ]},
   {"encoding":{"x":{"field":"x","type":"quantitative","scale":{"domain":[470,454],"nice":false,"zero":false},"axis":{"values":[470,465,460,455],"tickSize":-5,"labelPadding":10,"title":"Binding Energy (eV)","titlePadding":7}}},
    "layer":[
     {"data":{"values":[{"x":470,"x2":454,"y":100}]},"mark":{"type":"rule","color":"black","strokeWidth":1},"encoding":{"x2":{"field":"x2"},"y":{"field":"y","type":"quantitative","scale":{"domain":[0,197.4],"nice":false,"zero":false},"axis":null}}},
     {"data":{"name":"c_bot"},"mark":{"type":"line","color":"#1c1c96","strokeWidth":1.3,"interpolate":"monotone"},"encoding":{"y":{"field":"bg","type":"quantitative","scale":{"domain":[0,197.4],"nice":false,"zero":false},"axis":null}}},
     {"data":{"name":"c_bot"},"mark":{"type":"line","color":"#1a9a2a","strokeWidth":2.2,"interpolate":"monotone"},"encoding":{"y":{"field":"gr","type":"quantitative","scale":{"domain":[0,197.4],"nice":false,"zero":false},"axis":null}}},
     {"data":{"name":"c_bot"},"mark":{"type":"line","color":"#ff1aa8","strokeWidth":2.2,"interpolate":"monotone"},"encoding":{"y":{"field":"pk","type":"quantitative","scale":{"domain":[0,197.4],"nice":false,"zero":false},"axis":null}}},
     {"data":{"name":"c_bot"},"mark":{"type":"line","color":"black","strokeWidth":0.9,"interpolate":"monotone"},"encoding":{"y":{"field":"d","type":"quantitative","scale":{"domain":[0,197.4],"nice":false,"zero":false},"axis":null}}},
     {"data":{"values":[{"x":464.11,"y":41.3,"y2":11.8},{"x":458.42,"y":83.5,"y2":58.4}]},"mark":{"type":"rule","color":"black","strokeWidth":1,"strokeDash":[3,2]},"encoding":{"y":{"field":"y","type":"quantitative","scale":{"domain":[0,197.4],"nice":false,"zero":false},"axis":null},"y2":{"field":"y2"}}},
     {"data":{"values":[{"x":464.13,"y":46.6,"t":"464.1eV"},{"x":458.29,"y":87.9,"t":"458.4eV"}]},"mark":{"type":"text","fontSize":13},"encoding":{"y":{"field":"y","type":"quantitative","scale":{"domain":[0,197.4],"nice":false,"zero":false},"axis":null},"text":{"field":"t"}}},
     {"data":{"values":[{"x":454.26,"y":12.7,"t":"CT2"}]},"mark":{"type":"text","fontSize":14,"align":"right"},"encoding":{"y":{"field":"y","type":"quantitative","scale":{"domain":[0,197.4],"nice":false,"zero":false},"axis":null},"text":{"field":"t"}}}
    ]},
   {"data":{"values":[{"x":467.5,"y":0}]},"mark":{"type":"point","opacity":0},"encoding":{"x":{"field":"x","type":"quantitative","scale":{"domain":[470,454],"nice":false,"zero":false},"axis":{"orient":"bottom","values":[467.5,462.5,457.5],"tickSize":-3,"labels":false,"title":null}},"y":{"field":"y","type":"quantitative","scale":{"domain":[0,197.4],"nice":false,"zero":false},"axis":null}}}
  ]},
 {"width":291,"height":226,
  "resolve":{"scale":{"y":"independent"},"axis":{"x":"independent"}},
  "layer":[
   {"encoding":{"x":{"field":"x","type":"quantitative","scale":{"domain":[537,525],"nice":false,"zero":false},"axis":null}},
    "layer":[
     {"data":{"name":"d_top"},"mark":{"type":"line","color":"#1e9e4a","strokeWidth":1.2,"interpolate":"monotone"},"encoding":{"y":{"field":"bg","type":"quantitative","scale":{"domain":[-106.5,100],"nice":false,"zero":false},"axis":{"title":"Intensity (a. u.)","labels":false,"ticks":false,"titleX":-23,"titleY":118,"titleBaseline":"middle"}}}},
     {"data":{"name":"d_top"},"mark":{"type":"line","color":"#ff2fc8","strokeWidth":1.3,"interpolate":"monotone"},"encoding":{"y":{"field":"p","type":"quantitative","scale":{"domain":[-106.5,100],"nice":false,"zero":false},"axis":{"title":"Intensity (a. u.)","labels":false,"ticks":false,"titleX":-23,"titleY":118,"titleBaseline":"middle"}}}},
     {"data":{"name":"d_top"},"mark":{"type":"line","color":"#2a2aa8","strokeWidth":1.3,"interpolate":"monotone"},"encoding":{"y":{"field":"n","type":"quantitative","scale":{"domain":[-106.5,100],"nice":false,"zero":false},"axis":{"title":"Intensity (a. u.)","labels":false,"ticks":false,"titleX":-23,"titleY":118,"titleBaseline":"middle"}}}},
     {"data":{"name":"d_top"},"mark":{"type":"line","color":"#ff0000","strokeWidth":1.3,"interpolate":"monotone"},"encoding":{"y":{"field":"r","type":"quantitative","scale":{"domain":[-106.5,100],"nice":false,"zero":false},"axis":{"title":"Intensity (a. u.)","labels":false,"ticks":false,"titleX":-23,"titleY":118,"titleBaseline":"middle"}}}},
     {"data":{"name":"d_top"},"mark":{"type":"line","color":"#14148c","strokeWidth":1.6,"interpolate":"monotone"},"encoding":{"y":{"field":"env","type":"quantitative","scale":{"domain":[-106.5,100],"nice":false,"zero":false},"axis":{"title":"Intensity (a. u.)","labels":false,"ticks":false,"titleX":-23,"titleY":118,"titleBaseline":"middle"}}}},
     {"data":{"values":[{"x":529.7,"y":97.5,"y2":69.7},{"x":531.66,"y":43.5,"y2":31.2},{"x":533.21,"y":28.1,"y2":14.2}]},"mark":{"type":"rule","color":"black","strokeWidth":1,"strokeDash":[3,2]},"encoding":{"y":{"field":"y","type":"quantitative","scale":{"domain":[-106.5,100],"nice":false,"zero":false},"axis":{"title":"Intensity (a. u.)","labels":false,"ticks":false,"titleX":-23,"titleY":118,"titleBaseline":"middle"}},"y2":{"field":"y2"}}},
     {"data":{"values":[{"x":530.87,"y":90.7,"t":"529.7eV"},{"x":531.66,"y":49.7,"t":"531.6eV"},{"x":533.35,"y":37.3,"t":"533.2eV"}]},"mark":{"type":"text","fontSize":13},"encoding":{"y":{"field":"y","type":"quantitative","scale":{"domain":[-106.5,100],"nice":false,"zero":false},"axis":{"title":"Intensity (a. u.)","labels":false,"ticks":false,"titleX":-23,"titleY":118,"titleBaseline":"middle"}},"text":{"field":"t"}}},
     {"data":{"values":[{"x":525.16,"y":89.8,"t":"O 1s"},{"x":525.02,"y":21.5,"t":"TiO₂ NPs"}]},"mark":{"type":"text","fontSize":14,"align":"right"},"encoding":{"y":{"field":"y","type":"quantitative","scale":{"domain":[-106.5,100],"nice":false,"zero":false},"axis":{"title":"Intensity (a. u.)","labels":false,"ticks":false,"titleX":-23,"titleY":118,"titleBaseline":"middle"}},"text":{"field":"t"}}},
     {"data":{"values":[{"x":536.45,"y":86.8,"t":"d"}]},"mark":{"type":"text","fontSize":24},"encoding":{"y":{"field":"y","type":"quantitative","scale":{"domain":[-106.5,100],"nice":false,"zero":false},"axis":{"title":"Intensity (a. u.)","labels":false,"ticks":false,"titleX":-23,"titleY":118,"titleBaseline":"middle"}},"text":{"field":"t"}}}
    ]},
   {"encoding":{"x":{"field":"x","type":"quantitative","scale":{"domain":[537,525],"nice":false,"zero":false},"axis":{"values":[536,534,532,530,528,526],"tickSize":-5,"labelPadding":9,"title":"Binding Energy (eV)","titlePadding":7}}},
    "layer":[
     {"data":{"values":[{"x":537,"x2":525,"y":100}]},"mark":{"type":"rule","color":"black","strokeWidth":1},"encoding":{"x2":{"field":"x2"},"y":{"field":"y","type":"quantitative","scale":{"domain":[0,193.9],"nice":false,"zero":false},"axis":null}}},
     {"data":{"name":"d_bot"},"mark":{"type":"line","color":"#1e9e4a","strokeWidth":1.2,"interpolate":"monotone"},"encoding":{"y":{"field":"bg","type":"quantitative","scale":{"domain":[0,193.9],"nice":false,"zero":false},"axis":null}}},
     {"data":{"name":"d_bot"},"mark":{"type":"line","color":"#ff2fc8","strokeWidth":1.3,"interpolate":"monotone"},"encoding":{"y":{"field":"p","type":"quantitative","scale":{"domain":[0,193.9],"nice":false,"zero":false},"axis":null}}},
     {"data":{"name":"d_bot"},"mark":{"type":"line","color":"#2a2aa8","strokeWidth":1.3,"interpolate":"monotone"},"encoding":{"y":{"field":"n","type":"quantitative","scale":{"domain":[0,193.9],"nice":false,"zero":false},"axis":null}}},
     {"data":{"name":"d_bot"},"mark":{"type":"line","color":"#ff0000","strokeWidth":1.3,"interpolate":"monotone"},"encoding":{"y":{"field":"r","type":"quantitative","scale":{"domain":[0,193.9],"nice":false,"zero":false},"axis":null}}},
     {"data":{"name":"d_bot"},"mark":{"type":"line","color":"#14148c","strokeWidth":1.6,"interpolate":"monotone"},"encoding":{"y":{"field":"env","type":"quantitative","scale":{"domain":[0,193.9],"nice":false,"zero":false},"axis":null}}},
     {"data":{"values":[{"x":529.88,"y":78.5,"y2":56.8},{"x":531.63,"y":33.6,"y2":22.0},{"x":533.35,"y":22.9,"y2":9.0}]},"mark":{"type":"rule","color":"black","strokeWidth":1,"strokeDash":[3,2]},"encoding":{"y":{"field":"y","type":"quantitative","scale":{"domain":[0,193.9],"nice":false,"zero":false},"axis":null},"y2":{"field":"y2"}}},
     {"data":{"values":[{"x":529.88,"y":90.2,"t":"529.9eV"},{"x":531.63,"y":40.9,"t":"531.6eV"},{"x":533.19,"y":30.7,"t":"533.4eV"}]},"mark":{"type":"text","fontSize":13},"encoding":{"y":{"field":"y","type":"quantitative","scale":{"domain":[0,193.9],"nice":false,"zero":false},"axis":null},"text":{"field":"t"}}},
     {"data":{"values":[{"x":525.12,"y":21.5,"t":"CT2"}]},"mark":{"type":"text","fontSize":14,"align":"right"},"encoding":{"y":{"field":"y","type":"quantitative","scale":{"domain":[0,193.9],"nice":false,"zero":false},"axis":null},"text":{"field":"t"}}}
    ]},
   {"data":{"values":[{"x":535,"y":0}]},"mark":{"type":"point","opacity":0},"encoding":{"x":{"field":"x","type":"quantitative","scale":{"domain":[537,525],"nice":false,"zero":false},"axis":{"orient":"bottom","values":[535,533,531,529,527],"tickSize":-3,"labels":false,"title":null}},"y":{"field":"y","type":"quantitative","scale":{"domain":[0,193.9],"nice":false,"zero":false},"axis":null}}}
  ]},
 {"bounds":"flush","spacing":49,"hconcat":[
  {"width":106,"height":10,"view":{"stroke":null},"data":{"values":[{"t":""}]},"mark":{"type":"text"},"encoding":{"text":{"field":"t"}}},
  {"width":283,"height":226,
   "resolve":{"axis":{"x":"independent"}},
   "layer":[
    {"encoding":{"x":{"field":"x","type":"quantitative","scale":{"domain":[5,-2],"nice":false,"zero":false},"axis":{"values":[4,2,0,-2],"tickSize":-5,"labelPadding":9,"title":null,"labelExpr":"datum.value + ''"}}},
     "layer":[
      {"data":{"name":"e_blk"},"mark":{"type":"line","color":"black","strokeWidth":1.2},"encoding":{"y":{"field":"y","type":"quantitative","scale":{"domain":[0,100],"nice":false,"zero":false},"axis":{"title":"Intensity (a.u.)","labels":false,"ticks":false,"titleX":-26,"titleY":109,"titleBaseline":"middle"}}}},
      {"data":{"name":"e_red"},"mark":{"type":"line","color":"#ff0000","strokeWidth":1.2},"encoding":{"y":{"field":"y","type":"quantitative","scale":{"domain":[0,100],"nice":false,"zero":false},"axis":{"title":"Intensity (a.u.)","labels":false,"ticks":false,"titleX":-26,"titleY":109,"titleBaseline":"middle"}}}},
      {"data":{"values":[{"x":4.25,"y":57.7,"x2":2.51,"y2":14.6},{"x":2.88,"y":18.1,"x2":-2,"y2":18.1}]},"mark":{"type":"rule","color":"black","strokeWidth":1.1},"encoding":{"y":{"field":"y","type":"quantitative","scale":{"domain":[0,100],"nice":false,"zero":false},"axis":{"title":"Intensity (a.u.)","labels":false,"ticks":false,"titleX":-26,"titleY":109,"titleBaseline":"middle"}},"x2":{"field":"x2"},"y2":{"field":"y2"}}},
      {"data":{"values":[{"x":3.5,"y":61.8,"x2":2.38,"y2":36.3},{"x":3.96,"y":74.6,"x2":2.01,"y2":36.3},{"x":2.76,"y":39.7,"x2":-2,"y2":39.7}]},"mark":{"type":"rule","color":"#ff0000","strokeWidth":1.1},"encoding":{"y":{"field":"y","type":"quantitative","scale":{"domain":[0,100],"nice":false,"zero":false},"axis":{"title":"Intensity (a.u.)","labels":false,"ticks":false,"titleX":-26,"titleY":109,"titleBaseline":"middle"}},"x2":{"field":"x2"},"y2":{"field":"y2"}}},
      {"data":{"values":[{"x":3.17,"y":10.5,"x2":2.55,"y2":17.8},{"x":1.89,"y":32.6,"x2":2.38,"y2":39.2},{"x":0.77,"y":31.9,"x2":2.05,"y2":38.8}]},"mark":{"type":"rule","color":"black","strokeWidth":0.9},"encoding":{"y":{"field":"y","type":"quantitative","scale":{"domain":[0,100],"nice":false,"zero":false},"axis":{"title":"Intensity (a.u.)","labels":false,"ticks":false,"titleX":-26,"titleY":109,"titleBaseline":"middle"}},"x2":{"field":"x2"},"y2":{"field":"y2"}}},
      {"data":{"values":[{"x":2.6,"y":17.2}]},"mark":{"type":"point","shape":"triangle-up","angle":56,"filled":true,"size":22,"color":"black","opacity":1},"encoding":{"y":{"field":"y","type":"quantitative","scale":{"domain":[0,100],"nice":false,"zero":false},"axis":{"title":"Intensity (a.u.)","labels":false,"ticks":false,"titleX":-26,"titleY":109,"titleBaseline":"middle"}}}},
      {"data":{"values":[{"x":2.33,"y":38.5}]},"mark":{"type":"point","shape":"triangle-up","angle":307,"filled":true,"size":22,"color":"black","opacity":1},"encoding":{"y":{"field":"y","type":"quantitative","scale":{"domain":[0,100],"nice":false,"zero":false},"axis":{"title":"Intensity (a.u.)","labels":false,"ticks":false,"titleX":-26,"titleY":109,"titleBaseline":"middle"}}}},
      {"data":{"values":[{"x":1.99,"y":38.5}]},"mark":{"type":"point","shape":"triangle-up","angle":287,"filled":true,"size":22,"color":"black","opacity":1},"encoding":{"y":{"field":"y","type":"quantitative","scale":{"domain":[0,100],"nice":false,"zero":false},"axis":{"title":"Intensity (a.u.)","labels":false,"ticks":false,"titleX":-26,"titleY":109,"titleBaseline":"middle"}}}},
      {"data":{"values":[{"x":3.81,"y":9.7,"t":"2.63 eV"},{"x":2.12,"y":28.9,"t":"2.48 eV"},{"x":0.46,"y":28.9,"t":"2.16 eV"}]},"mark":{"type":"text","fontSize":16},"encoding":{"y":{"field":"y","type":"quantitative","scale":{"domain":[0,100],"nice":false,"zero":false},"axis":{"title":"Intensity (a.u.)","labels":false,"ticks":false,"titleX":-26,"titleY":109,"titleBaseline":"middle"}},"text":{"field":"t"}}},
      {"data":{"values":[{"x":0.73,"x2":0.07,"y":88.4}]},"mark":{"type":"rule","color":"black","strokeWidth":1.3},"encoding":{"y":{"field":"y","type":"quantitative","scale":{"domain":[0,100],"nice":false,"zero":false},"axis":{"title":"Intensity (a.u.)","labels":false,"ticks":false,"titleX":-26,"titleY":109,"titleBaseline":"middle"}},"x2":{"field":"x2"}}},
      {"data":{"values":[{"x":0.73,"x2":0.07,"y":78.6}]},"mark":{"type":"rule","color":"#ff0000","strokeWidth":1.3},"encoding":{"y":{"field":"y","type":"quantitative","scale":{"domain":[0,100],"nice":false,"zero":false},"axis":{"title":"Intensity (a.u.)","labels":false,"ticks":false,"titleX":-26,"titleY":109,"titleBaseline":"middle"}},"x2":{"field":"x2"}}},
      {"data":{"values":[{"x":-0.05,"y":88.4,"t":"TiO₂ NPs"},{"x":-0.05,"y":78.6,"t":"CT2"}]},"mark":{"type":"text","fontSize":16,"align":"left"},"encoding":{"y":{"field":"y","type":"quantitative","scale":{"domain":[0,100],"nice":false,"zero":false},"axis":{"title":"Intensity (a.u.)","labels":false,"ticks":false,"titleX":-26,"titleY":109,"titleBaseline":"middle"}},"text":{"field":"t"}}},
      {"data":{"values":[{"x":4.7,"y":94.5,"t":"e"}]},"mark":{"type":"text","fontSize":24},"encoding":{"y":{"field":"y","type":"quantitative","scale":{"domain":[0,100],"nice":false,"zero":false},"axis":{"title":"Intensity (a.u.)","labels":false,"ticks":false,"titleX":-26,"titleY":109,"titleBaseline":"middle"}},"text":{"field":"t"}}}
     ]},
    {"data":{"values":[{"x":3,"y":0}]},"mark":{"type":"point","opacity":0},"encoding":{"x":{"field":"x","type":"quantitative","scale":{"domain":[5,-2],"nice":false,"zero":false},"axis":{"orient":"bottom","values":[3,1,-1],"tickSize":-3,"labels":false,"title":null}},"y":{"field":"y","type":"quantitative","scale":{"domain":[0,100],"nice":false,"zero":false},"axis":{"title":"Intensity (a.u.)","labels":false,"ticks":false,"titleX":-26,"titleY":109,"titleBaseline":"middle"}}}}
   ]}
 ]}
]
}
